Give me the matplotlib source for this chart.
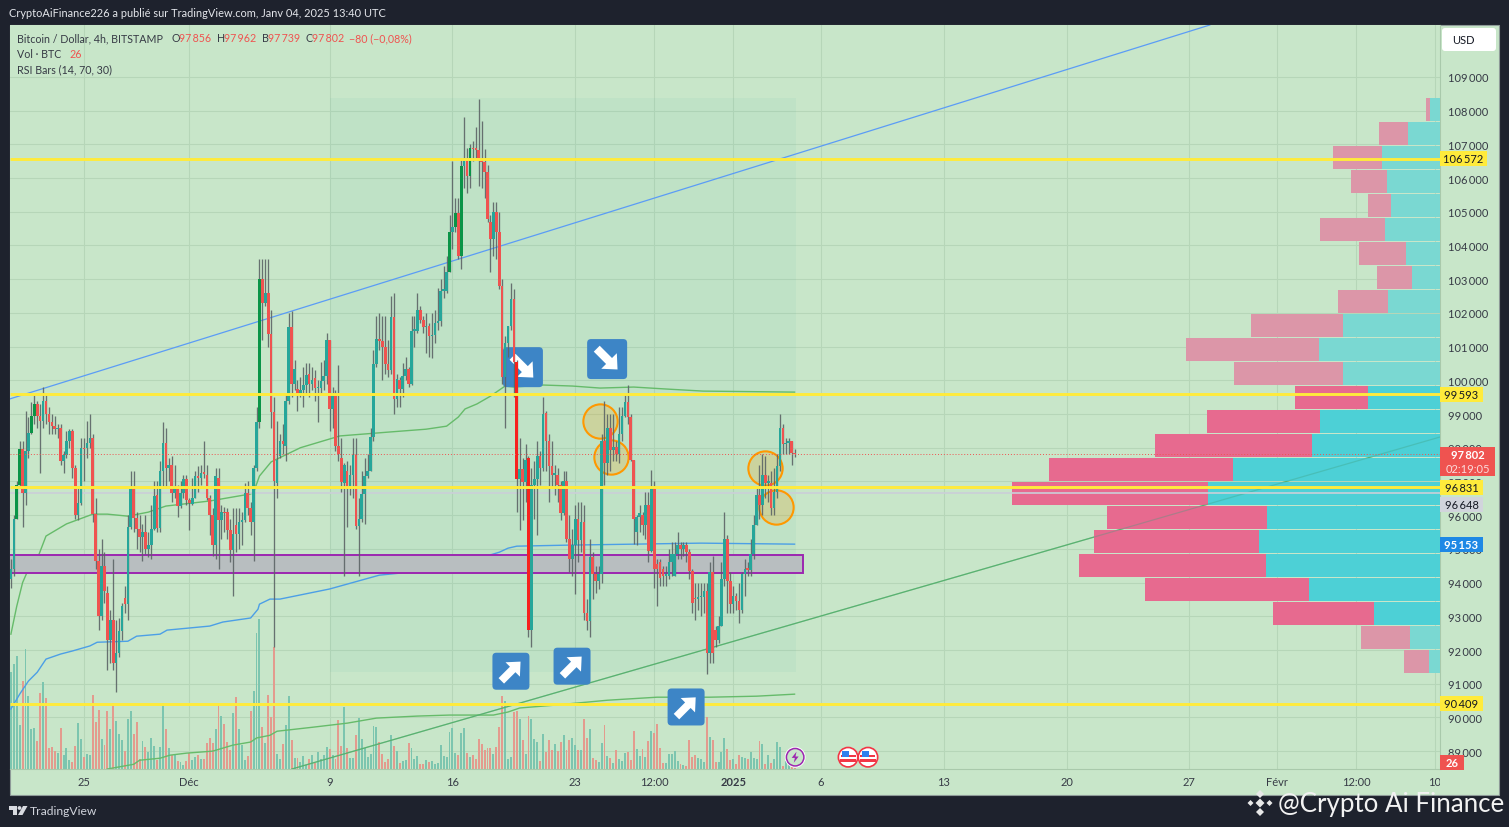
import numpy as np
import matplotlib
matplotlib.use("Agg")
import matplotlib.pyplot as plt
from matplotlib.patches import Rectangle, FancyBboxPatch, Polygon, FancyArrow, Circle
from matplotlib.offsetbox import AnnotationBbox, DrawingArea
from matplotlib.transforms import Affine2D, Bbox

plt.rcParams['font.family'] = ['Lato', 'DejaVu Sans']

# prices are in thousands of dollars, one row per 10 bars (4h)
opens = [
    94.1, 94.4, 95.9, 96.9, 97.95, 96.65, 97.9, 98.45, 98.95, 99.3,
    98.95, 98.8, 99.4, 99.0, 98.75, 98.65, 98.55, 98.6, 97.6, 97.78,
    98.2, 98.5, 97.4, 96.0, 96.35, 98.0, 97.98, 98.15, 98.28, 96.03,
    94.65, 93.0, 94.5, 93.7, 92.3, 92.9, 91.6, 91.9, 92.55, 93.55,
    93.35, 95.65, 96.77, 95.93, 95.6, 95.35, 95.5, 95.0, 95.1, 95.6,
    96.6, 95.62, 97.3, 98.13, 97.4, 97.5, 96.67, 96.8, 96.27, 96.67,
    97.07, 96.45, 96.33, 96.5, 97.17, 97.1, 97.25, 97.2, 96.5, 96.0,
    95.1, 97.1, 95.85, 96.1, 96.1, 95.57, 94.97, 95.7, 95.45, 95.8,
    95.85, 96.65, 96.2, 95.8, 97.4, 98.75, 103.0, 102.3, 102.6, 101.37,
    99.05, 96.95, 97.75, 98.2, 98.05, 99.4, 101.57, 99.9, 99.75, 99.55,
    99.72, 99.85, 100.2, 99.9, 100.08, 99.76, 99.76, 99.99, 100.13, 101.19,
    99.15, 99.62, 98.04, 97.69, 96.95, 97.3, 96.8, 97.2, 97.78, 95.68,
    95.9, 96.63, 97.17, 97.3, 98.33, 100.47, 101.22, 101.17, 101.0, 100.47,
    100.3, 101.87, 99.45, 100.0, 99.75, 100.13, 100.35, 99.9, 101.47, 101.47,
    102.1, 101.8, 101.57, 101.6, 101.3, 101.35, 101.7, 101.76, 102.65, 102.66,
    103.22, 104.4, 104.55, 104.95, 103.7, 106.35, 106.6, 106.05, 106.88, 106.85,
    106.83, 106.5, 106.47, 106.18, 104.7, 104.2, 105.0, 104.4, 102.8, 100.1,
    101.1, 101.6, 102.4, 100.55, 97.07, 97.37, 96.97, 97.7, 92.6, 96.9,
    97.07, 97.75, 97.4, 99.03, 98.2, 97.45, 97.2, 97.2, 96.9, 96.05,
    97.0, 95.3, 94.7, 95.1, 95.9, 95.25, 95.8, 93.1, 92.85, 94.75,
    94.25, 94.05, 94.25, 98.2, 97.55, 98.6, 97.93, 98.03, 97.82, 98.4,
    98.93, 99.35, 98.9, 97.65, 95.5, 95.95, 96.0, 95.7, 96.3, 94.95,
    96.85, 94.55, 94.6, 94.4, 94.2, 94.2, 94.6, 94.2, 94.85, 95.1,
    95.0, 95.1, 94.9, 94.35, 93.55, 93.5, 93.56, 93.56, 93.75, 91.9,
    94.3, 92.6, 92.3, 92.7, 94.1, 95.3, 94.05, 93.35, 93.6, 93.45,
    93.2, 94.25, 94.4, 94.38, 94.85, 95.7, 96.6, 96.3, 97.2, 96.95,
    96.95, 96.2, 96.7, 97.45, 98.6, 98.1, 98.15, 98.2, 97.856,
]
highs = [
    94.7, 96.0, 97.0, 98.2, 98.2, 99.1, 98.9, 99.35, 99.6, 99.4,
    99.3, 99.8, 99.6, 99.2, 99.0, 98.95, 98.7, 98.7, 97.9, 98.5,
    98.55, 98.55, 97.5, 96.8, 98.3, 98.3, 98.8, 99.0, 98.4, 96.5,
    95.0, 95.3, 94.9, 93.9, 93.2, 94.7, 92.9, 92.95, 93.4, 93.9,
    96.0, 97.3, 97.3, 96.1, 96.0, 95.75, 96.0, 95.5, 96.3, 97.0,
    97.0, 97.6, 98.75, 98.6, 97.7, 97.75, 97.5, 96.9, 97.0, 97.2,
    97.2, 96.5, 97.1, 97.3, 97.45, 97.5, 98.2, 97.5, 96.6, 96.2,
    97.4, 97.4, 96.3, 96.25, 96.2, 95.9, 96.2, 96.2, 96.2, 96.1,
    96.95, 97.0, 96.4, 97.5, 99.2, 103.6, 103.6, 103.6, 103.6, 102.1,
    99.5, 98.8, 98.4, 98.7, 99.6, 102.0, 102.05, 100.6, 100.0, 100.1,
    100.4, 100.5, 100.5, 100.4, 100.3, 100.0, 100.55, 100.6, 101.4, 101.2,
    99.8, 99.7, 100.45, 98.3, 97.55, 97.6, 97.5, 98.3, 98.3, 96.5,
    97.3, 97.7, 97.8, 98.6, 100.9, 101.9, 102.0, 101.9, 101.9, 101.2,
    102.5, 102.6, 100.2, 100.1, 100.5, 100.7, 100.4, 101.9, 101.9, 102.6,
    102.2, 101.9, 102.0, 101.7, 102.0, 102.1, 102.75, 103.0, 103.4, 103.7,
    104.9, 106.5, 105.4, 105.4, 106.6, 107.8, 106.9, 107.0, 107.1, 107.5,
    108.35, 107.7, 106.85, 106.4, 104.9, 105.3, 105.3, 105.0, 103.0, 101.3,
    101.6, 102.9, 102.7, 100.6, 98.3, 97.7, 98.1, 97.75, 97.4, 97.6,
    98.2, 97.9, 99.5, 99.1, 98.4, 98.2, 97.5, 97.4, 97.0, 97.3,
    97.3, 96.0, 95.6, 96.3, 96.4, 96.4, 96.3, 93.5, 95.3, 94.9,
    94.5, 94.5, 98.4, 99.4, 99.0, 99.0, 99.0, 98.2, 99.2, 99.2,
    99.6, 99.85, 99.0, 97.65, 96.0, 96.3, 96.1, 96.7, 96.7, 97.35,
    97.0, 94.7, 94.7, 94.5, 94.5, 95.0, 95.2, 95.2, 95.5, 95.2,
    95.2, 95.2, 95.0, 94.4, 94.0, 94.0, 94.0, 94.0, 94.0, 94.6,
    94.8, 92.7, 93.0, 94.6, 96.1, 95.4, 94.3, 93.9, 93.7, 94.0,
    94.3, 94.7, 94.6, 95.3, 96.0, 96.8, 97.5, 97.8, 97.75, 97.2,
    97.3, 97.4, 97.8, 99.0, 98.7, 98.3, 98.3, 98.2, 97.962,
]
lows = [
    93.85, 94.2, 95.9, 96.8, 95.65, 96.3, 97.7, 98.4, 98.7, 98.6,
    97.25, 98.6, 98.7, 98.4, 98.4, 98.4, 98.3, 97.5, 97.25, 97.7,
    98.0, 97.1, 95.9, 95.85, 96.3, 97.0, 97.7, 98.0, 95.8, 94.4,
    92.6, 92.9, 93.4, 91.4, 91.6, 91.4, 90.75, 91.8, 92.3, 93.1,
    92.9, 95.6, 95.5, 95.0, 94.9, 94.65, 94.85, 94.75, 94.7, 95.55,
    95.5, 95.5, 96.8, 96.85, 97.0, 96.4, 96.5, 95.95, 96.2, 96.5,
    96.3, 95.55, 96.3, 96.5, 96.7, 96.9, 97.1, 96.45, 95.4, 94.8,
    94.7, 94.4, 95.3, 95.5, 95.3, 94.6, 93.6, 94.9, 95.0, 95.1,
    95.8, 96.0, 95.4, 94.65, 97.3, 98.6, 101.2, 102.2, 101.0, 98.6,
    92.1, 96.5, 97.7, 97.8, 97.6, 99.3, 99.5, 99.7, 99.1, 99.5,
    99.2, 99.6, 99.5, 99.7, 99.4, 98.75, 99.6, 99.7, 99.9, 98.5,
    98.6, 97.9, 97.6, 96.7, 94.2, 95.65, 96.6, 96.5, 95.6, 94.2,
    95.8, 95.75, 97.1, 97.3, 98.2, 100.4, 100.9, 100.0, 100.2, 100.1,
    100.2, 99.0, 99.2, 99.2, 99.5, 100.0, 99.8, 99.85, 101.0, 101.4,
    101.7, 101.4, 100.8, 100.7, 100.65, 101.1, 101.5, 101.6, 102.45, 102.6,
    103.2, 103.9, 104.4, 103.6, 103.3, 105.7, 105.55, 105.7, 106.5, 106.6,
    105.75, 105.7, 105.4, 104.7, 103.2, 103.7, 103.6, 102.7, 99.9, 98.6,
    100.7, 101.5, 99.5, 96.1, 95.55, 95.85, 96.4, 92.4, 92.1, 95.9,
    95.4, 96.9, 97.3, 97.3, 96.4, 96.8, 96.6, 96.4, 95.85, 96.0,
    95.2, 94.3, 94.2, 93.65, 94.6, 94.9, 92.9, 92.6, 92.4, 93.5,
    93.7, 93.8, 94.0, 96.9, 97.2, 97.3, 97.6, 97.6, 97.55, 98.2,
    98.9, 98.7, 97.6, 95.15, 95.1, 95.5, 95.4, 95.3, 94.6, 94.9,
    93.85, 93.3, 93.9, 93.9, 93.9, 94.1, 94.2, 94.2, 94.7, 94.7,
    94.8, 94.6, 94.1, 93.1, 92.9, 93.2, 93.0, 93.1, 91.3, 91.6,
    91.6, 92.1, 92.2, 92.7, 93.9, 93.1, 93.1, 93.1, 93.2, 92.8,
    93.1, 93.6, 94.2, 94.2, 94.7, 95.7, 95.9, 96.0, 96.5, 96.4,
    96.0, 96.0, 96.5, 97.3, 97.8, 97.8, 97.8, 97.5, 97.739,
]
closes = [
    94.4, 95.9, 96.9, 97.95, 96.65, 97.9, 98.45, 98.95, 99.3, 98.95,
    98.8, 99.4, 99.0, 98.75, 98.65, 98.55, 98.6, 97.6, 97.78, 98.2,
    98.5, 97.4, 96.0, 96.35, 97.98, 97.95, 98.15, 98.28, 96.03, 94.65,
    93.0, 94.5, 93.75, 92.3, 92.9, 91.6, 91.9, 92.55, 93.3, 93.35,
    95.65, 96.77, 95.93, 95.6, 95.35, 95.5, 95.0, 95.1, 95.6, 96.58,
    95.62, 97.3, 98.13, 97.4, 97.5, 96.67, 96.8, 96.27, 96.67, 97.07,
    96.45, 96.35, 96.5, 97.17, 97.1, 97.25, 97.22, 96.5, 96.0, 95.1,
    97.17, 95.85, 96.1, 96.05, 95.57, 94.97, 95.45, 95.45, 95.8, 95.85,
    96.65, 96.2, 95.8, 97.4, 98.75, 103.0, 102.3, 102.6, 101.37, 99.05,
    97.0, 97.65, 98.2, 98.1, 99.4, 101.57, 99.9, 100.33, 99.55, 99.72,
    99.85, 100.15, 99.9, 100.0, 99.76, 99.78, 99.99, 100.13, 101.19, 99.15,
    99.62, 98.04, 97.8, 96.97, 97.5, 96.77, 97.2, 97.78, 95.68, 95.9,
    96.63, 97.17, 97.3, 98.33, 100.47, 101.22, 101.17, 101.0, 100.47, 100.3,
    101.87, 99.45, 100.05, 99.75, 100.13, 100.35, 99.9, 101.47, 101.47, 102.1,
    101.8, 101.57, 101.6, 101.3, 101.35, 101.7, 101.76, 102.65, 102.66, 103.22,
    104.4, 104.55, 104.95, 103.7, 106.35, 106.6, 106.05, 106.88, 106.85, 106.83,
    106.5, 106.47, 106.18, 104.8, 104.2, 105.0, 104.4, 102.8, 100.1, 101.1,
    101.6, 102.4, 100.55, 97.07, 97.37, 96.97, 97.65, 92.6, 96.9, 97.07,
    97.75, 97.4, 98.99, 98.2, 97.45, 97.2, 97.22, 96.9, 96.05, 97.0,
    95.3, 94.7, 95.1, 95.9, 95.25, 95.8, 93.1, 92.85, 94.75, 94.25,
    94.05, 94.25, 98.2, 97.55, 98.6, 97.93, 98.03, 97.82, 98.4, 98.93,
    99.35, 98.9, 97.65, 95.9, 95.95, 96.05, 95.7, 96.3, 94.95, 96.85,
    94.4, 94.4, 94.15, 94.2, 94.2, 94.6, 94.85, 94.85, 95.1, 95.0,
    95.1, 94.9, 94.35, 93.4, 93.5, 93.56, 93.56, 93.75, 91.9, 94.3,
    91.9, 92.3, 92.7, 94.1, 95.3, 94.05, 93.35, 93.6, 93.45, 93.2,
    94.25, 94.4, 94.38, 94.85, 95.7, 96.6, 96.3, 97.2, 96.95, 96.98,
    96.2, 96.7, 97.45, 98.6, 98.1, 98.15, 98.2, 97.85, 97.802,
]
volumes = [
    97, 105, 113, 44, 88, 120, 73, 40, 41, 28,
    76, 87, 71, 21, 22, 18, 16, 41, 14, 21,
    9, 7, 23, 46, 30, 12, 15, 14, 74, 47,
    59, 30, 24, 58, 40, 66, 48, 35, 29, 18,
    50, 58, 35, 47, 10, 28, 22, 17, 31, 23,
    9, 22, 66, 40, 21, 14, 14, 8, 7, 4,
    8, 16, 9, 12, 14, 10, 10, 26, 31, 26,
    40, 65, 53, 45, 27, 19, 56, 72, 40, 24,
    9, 13, 58, 78, 136, 150, 42, 26, 74, 52,
    122, 15, 10, 25, 44, 73, 29, 11, 11, 7,
    13, 4, 10, 14, 6, 17, 10, 14, 22, 20,
    14, 10, 49, 23, 62, 21, 11, 11, 34, 51,
    30, 21, 12, 15, 43, 42, 27, 15, 7, 10,
    34, 23, 18, 6, 8, 9, 26, 21, 10, 13,
    5, 5, 9, 7, 8, 5, 6, 24, 13, 12,
    37, 41, 16, 14, 36, 41, 16, 12, 14, 10,
    30, 25, 19, 21, 21, 15, 22, 42, 73, 68,
    10, 12, 57, 58, 50, 29, 15, 53, 50, 30,
    27, 8, 35, 17, 29, 19, 25, 18, 27, 34,
    19, 29, 31, 24, 19, 19, 50, 31, 40, 11,
    9, 7, 26, 44, 13, 11, 6, 19, 10, 8,
    16, 17, 9, 38, 20, 13, 20, 12, 28, 38,
    36, 45, 21, 6, 6, 15, 15, 18, 8, 5,
    4, 3, 29, 12, 14, 11, 10, 7, 52, 32,
    29, 7, 7, 17, 31, 20, 9, 10, 5, 14,
    12, 11, 10, 17, 11, 10, 28, 25, 5, 14,
    6, 10, 27, 22, 3, 8, 5, 3, 1,
]
strong_up_bars = [2, 3, 7, 8, 85, 150, 152, 154, 157]
strong_down_bars = [173, 177]

# anchored vwap lines, (bar, price) vertices
vwap_green_x = [0, 2, 4, 6, 9, 12, 19, 28, 33, 40, 47, 53, 59, 68, 82, 83, 85, 89, 99, 112.5, 130, 142, 149, 153,
                155.3, 159.4, 164, 169, 172, 182, 192, 201.5, 213, 224.4, 236.7, 268]
vwap_green_y = [92.47, 93.3, 94.0, 94.4, 94.7, 95.38, 95.74, 96.03, 96.03, 95.97, 96.09, 96.27, 96.33, 96.42, 96.63,
                96.68, 97.16, 97.58, 98.0, 98.35, 98.47, 98.55, 98.64, 98.91, 99.15, 99.3, 99.53, 99.83, 99.8,
                99.86, 99.83, 99.77, 99.8, 99.74, 99.68, 99.65]
vwap_blue_x = [0, 3, 6, 9, 12, 17, 21, 27, 29.5, 40, 43, 51, 53.4, 68, 72.5, 82, 84.5, 85, 88.6, 92, 109, 126, 140,
               157, 167, 170, 173, 190, 213, 236, 268]
vwap_blue_y = [90.25, 90.69, 91.08, 91.34, 91.73, 91.88, 91.97, 92.12, 92.23, 92.26, 92.41, 92.47, 92.59, 92.71,
               92.83, 92.95, 93.21, 93.36, 93.51, 93.51, 93.81, 94.22, 94.34, 94.64, 94.9, 95.02, 95.08, 95.11,
               95.14, 95.17, 95.14]
vwap_low_x = [33, 42, 44, 51, 54.4, 60, 69, 76, 82, 84, 88.6, 91, 103.3, 115, 125, 139, 150, 157, 165, 170, 174,
              185.4, 204, 221, 239, 255, 268]
vwap_low_y = [88.47, 88.61, 88.73, 88.79, 88.88, 88.94, 89.0, 89.18, 89.27, 89.39, 89.47, 89.59, 89.71, 89.83,
              89.98, 90.04, 90.07, 90.07, 90.07, 90.16, 90.28, 90.36, 90.51, 90.6, 90.6, 90.63, 90.69]

trend_blue_x = [-0.3, 410]
trend_blue_y = [99.45, 110.54]
trend_green_x = [96.1, 488.8]
trend_green_y = [88.47, 98.32]

level_prices = [106.572, 99.593, 96.831, 90.409]
last_price = 97.802
poc_price = 96.648
zone_prices = [94.28, 94.82]
zone_bars = [-2, 270.9]
range_bars = [109.1, 268.5]
range_prices = [91.34, 108.36]

arrow_bars = [175.1, 203.9, 171, 191.9, 230.9]
arrow_prices = [100.39, 100.63, 91.37, 91.52, 90.31]
arrow_up = [False, False, True, True, True]
circle_bars = [201.5, 205.2, 257.9, 261.7]
circle_prices = [98.79, 97.72, 97.4, 96.24]

# volume profile on the right
vp_prices = [108.04, 107.33, 106.62, 105.90, 105.19, 104.48, 103.77, 103.06, 102.34, 101.63, 100.92, 100.21,
             99.50, 98.78, 98.07, 97.36, 96.65, 95.94, 95.22, 94.51, 93.80, 93.09, 92.38, 91.66]
vp_up = [10, 32, 58, 53, 49, 55, 34, 28, 52, 97, 121, 97, 72, 120, 128, 207, 232, 173, 181, 174, 131, 66, 30, 11]
vp_down = [4, 29, 49, 36, 23, 65, 47, 35, 50, 92, 133, 109, 73, 113, 157, 184, 196, 160, 165, 187, 164, 101, 49, 25]
vp_solid_rows = [12, 13, 14, 15, 16, 17, 18, 19, 20, 21]

tick_bars = [25, 61, 109, 151, 193, 220, 247, 277, 319, 361, 403, 433, 460, 487]
tick_labels = ['25', 'Déc', '9', '16', '23', '12:00', '2025', '6', '13', '20', '27', 'Févr', '12:00', '10']
price_ticks = list(range(89, 110))

BG = '#C8E6C9'
DARK = '#1E222D'
TEAL = '#26A69A'
RED = '#EF5350'
W, H = 1509, 828
XMIN, XMAX = -0.31, 488.73
YMIN, YMAX = 88.47, 110.54
THIN = '\u2009'

fig = plt.figure(figsize=(W / 100, H / 100), dpi=100, facecolor=DARK)
px = Affine2D().scale(1, -1).translate(0, H)

fig.add_artist(Rectangle((9.5, 25.5), 1489, 770, transform=px, facecolor=BG, edgecolor='#8E9A98', lw=0.8, zorder=-1))

ax = fig.add_axes([10 / W, 1 - 770 / H, 1430 / W, 744 / H], facecolor=BG)
ax.set_xlim(XMIN, XMAX)
ax.set_ylim(YMIN, YMAX)
px_x = 1430 / (XMAX - XMIN)
px_y = 744 / (YMAX - YMIN)
for s in ['top', 'left']:
    ax.spines[s].set_visible(False)
for s in ['right', 'bottom']:
    ax.spines[s].set_color('#A9C9AB')
    ax.spines[s].set_linewidth(0.8)

ax.yaxis.tick_right()
ax.set_yticks(price_ticks)
ax.set_yticklabels([f'{p}{THIN}000' for p in price_ticks], fontsize=8, color='#363A45')
ax.set_xticks(tick_bars)
ax.set_xticklabels(tick_labels, fontsize=8, color='#363A45')
ax.tick_params(axis='both', length=0)
ax.tick_params(axis='y', pad=6)
ax.tick_params(axis='x', pad=5)
ax.grid(True, color='#B6D6B8', lw=0.8, zorder=0)
ax.set_axisbelow(True)
for t, lab in zip(ax.get_xticklabels(), tick_labels):
    t.set_clip_on(True)
    t.set_clip_box(Bbox.from_extents(0, 0, 1440, H))
    if lab == '2025':
        t.set_fontweight('bold')

bars = np.arange(len(closes))
o = np.array(opens)
h = np.array(highs)
l = np.array(lows)
c = np.array(closes)
up = c >= o
colors = np.where(up, TEAL, RED).astype(object)
colors[strong_up_bars] = '#0A9447'
colors[strong_down_bars] = '#F7211E'

# date range shade
ax.add_patch(Rectangle((range_bars[0], range_prices[0]), range_bars[1] - range_bars[0], range_prices[1] - range_prices[0],
                       facecolor=TEAL, alpha=0.05, edgecolor='none', zorder=1))

# volume
ax.bar(bars, np.array(volumes) / px_y, bottom=YMIN, width=0.66,
       color=np.where(up, '#7CC5AF', '#E39B8E'), zorder=1.5)

# trend lines and vwaps
ax.plot(trend_green_x, trend_green_y, color='#66BB6A', lw=0.9, zorder=2)
ax.plot(trend_blue_x, trend_blue_y, color='#5B9CF6', lw=0.9, zorder=2)
ax.plot(vwap_green_x, vwap_green_y, color='#66BB6A', lw=1.0, zorder=2)
ax.plot(vwap_low_x, vwap_low_y, color='#66BB6A', lw=1.0, zorder=2)
ax.plot(vwap_blue_x, vwap_blue_y, color='#4C9FE6', lw=1.0, zorder=2)

# volume profile
vp_k = 1 / px_x
up_w = np.array(vp_up) * vp_k
down_w = np.array(vp_down) * vp_k
rows = np.arange(len(vp_prices))
solid = np.isin(rows, vp_solid_rows)
ax.barh(vp_prices, up_w, left=XMAX - up_w, height=23 / px_y, color=np.where(solid, '#4DD0D6', '#7AD8D2'), zorder=3)
ax.barh(vp_prices, down_w, left=XMAX - up_w - down_w, height=23 / px_y, color=np.where(solid, '#E76A8F', '#DC96A8'),
        zorder=3)
# the trend line shows faintly through the profile
ax.plot(trend_green_x, trend_green_y, color='#3F9F7F', lw=0.9, alpha=0.35, zorder=3.1)

# zone
ax.add_patch(Rectangle((zone_bars[0], zone_prices[0]), zone_bars[1] - zone_bars[0], zone_prices[1] - zone_prices[0],
                       facecolor='#B8BEC0', edgecolor='#9C27B0', lw=1.4, zorder=3.5))


def arrow_box(bar, price, pointing_up, z, size):
    s = size * 0.72
    area = DrawingArea(s, s, 0, 0)
    area.add_artist(FancyBboxPatch((0, 0), s, s, boxstyle='round,pad=0,rounding_size=2.8',
                                   facecolor='#3D85C6', edgecolor='none'))
    a, b = s * 0.24, s * 0.76
    if pointing_up:
        area.add_artist(FancyArrow(a, a, b - a, b - a, width=s * 0.21, head_width=s * 0.55, head_length=s * 0.3,
                                   length_includes_head=True, color='white', lw=0))
    else:
        area.add_artist(FancyArrow(a, b, b - a, a - b, width=s * 0.21, head_width=s * 0.55, head_length=s * 0.3,
                                   length_includes_head=True, color='white', lw=0))
    ax.add_artist(AnnotationBbox(area, (bar, price), frameon=False, pad=0, box_alignment=(0.5, 0.5), zorder=z))


for i, (b, p, u) in enumerate(zip(arrow_bars, arrow_prices, arrow_up)):
    arrow_box(b, p, u, 4 if i == 0 else 9, 40 if i < 2 else 37)

ax.scatter(circle_bars, circle_prices, s=610, facecolor=(1.0, 0.6, 0.0, 0.2), edgecolor='#FF9800', lw=1.5, zorder=4.5)

# candles
ax.vlines(bars, l, h, color='#5C6466', lw=0.95, alpha=0.9, zorder=5)
ax.bar(bars, np.maximum(np.abs(c - o), 0.05), bottom=np.minimum(o, c), width=0.9, color=colors, zorder=6)

ax.hlines(last_price, XMIN, XMAX, color=RED, lw=0.7, linestyles=(0, (1, 2)), zorder=6.5)
ax.hlines(poc_price, XMIN, XMAX, color='#CBCFD8', lw=1.2, zorder=3.2)
ax.hlines(level_prices, XMIN, XMAX, color='#FFEB3B', lw=2.1, zorder=8)


# price tags on the scale
def price_tag(price, w, hpx, fc, text, tc='#131722', weight='normal', text_price=None):
    ax.add_patch(Rectangle((1, price - hpx / px_y / 2), w / 1430, hpx / px_y, transform=ax.get_yaxis_transform(),
                           facecolor=fc, edgecolor='none', clip_on=False, zorder=10))
    ax.text(1 + w / 2 / 1430, price if text_price is None else text_price, text, transform=ax.get_yaxis_transform(),
            ha='center', va='center', fontsize=8, color=tc, fontweight=weight, clip_on=False, zorder=11)


for lv in level_prices:
    price_tag(lv, 47 if lv > 100 else 43, 15, '#FFEB3B', f'{lv:.3f}'.replace('.', THIN))
price_tag(96.33, 43, 15, '#D1D4DC', f'96{THIN}648')
price_tag(95.14, 43, 15, '#1E88E5', f'95{THIN}153', tc='white', weight='bold')
price_tag(97.59, 55, 29, RED, f'97{THIN}802', tc='white', weight='bold', text_price=97.8)
ax.text(1 + 27.5 / 1430, 97.39, '02:19:05', transform=ax.get_yaxis_transform(), ha='center', va='center',
        fontsize=8, color='#FBDADA', clip_on=False, zorder=11)
price_tag(88.67, 24, 15, RED, '26', tc='white', weight='bold')

# event markers on the time axis
ev = DrawingArea(16, 16, 0, 0)
ev.add_artist(Circle((8, 8), 7.5, facecolor='white', edgecolor='none'))
ev.add_artist(Circle((8, 8), 6.3, facecolor=BG, edgecolor='#9C27B0', lw=1.1))
ev.add_artist(Polygon([(9, 12), (5.5, 7.5), (7.8, 7.5), (7, 4), (10.5, 8.5), (8.2, 8.5)], closed=True, color='#9C27B0', lw=0))
ax.add_artist(AnnotationBbox(ev, (268.2, 88.82), frameon=False, pad=0, zorder=7))
for b in [286.3, 293.1]:
    fl = DrawingArea(16, 16, 0, 0)
    fl.add_artist(Circle((8, 8), 7, facecolor='white', edgecolor='#F23645', lw=1.2))
    fl.add_artist(Rectangle((2.2, 4.8), 11.6, 1.8, color='#F23645', lw=0))
    fl.add_artist(Rectangle((2.6, 8), 10.8, 1.6, color='#F23645', lw=0))
    fl.add_artist(Rectangle((3.5, 8), 5, 4.4, color='#2F80ED', lw=0))
    ax.add_artist(AnnotationBbox(fl, (b, 88.82), frameon=False, pad=0, zorder=7))


# texts outside the plot, in pixels
def ptext(x, y, s, color='#131722', size=8, **kw):
    fig.text(x, y, s, transform=px, color=color, fontsize=size, va='center', **kw)


ptext(9, 14, 'CryptoAiFinance226 a publié sur TradingView.com, Janv 04, 2025 13:40 UTC', color='#E4E6EB', size=7.95)
ptext(17, 38.5, 'Bitcoin / Dollar, 4h, BITSTAMP', color='#363A45', size=7.7)
for x, s, col in [(172, 'O', '#363A45'), (179, f'97{THIN}856', RED), (217, 'H', '#363A45'), (224, f'97{THIN}962', RED),
                  (262, 'B', '#363A45'), (268, f'97{THIN}739', RED), (305, 'C', '#363A45'), (312, f'97{THIN}802', RED),
                  (349, '\u221280 (\u22120,08%)', RED)]:
    ptext(x, 38.5, s, color=col, size=7.7)
ptext(17, 54.5, 'Vol · BTC', color='#363A45', size=7.7)
ptext(69, 54.5, '26', color=RED, size=7.7)
ptext(17, 70, 'RSI Bars (14, 70, 30)', color='#363A45', size=7.7)

fig.add_artist(FancyBboxPatch((1442, 29), 54, 23, boxstyle='round,pad=0,rounding_size=3', transform=px,
                              facecolor='white', edgecolor='none', zorder=2))
fig.text(1452, 41, 'USD', transform=px, fontsize=8, color='#131722', va='center', zorder=3)

# tradingview logo
fig.add_artist(Polygon([(9, 807), (17, 807), (17, 816), (13, 816), (13, 811), (9, 811)], transform=px, color='#D8DAE0', lw=0))
fig.add_artist(Circle((19.5, 809), 1.9, transform=px, color='#D8DAE0', lw=0))
fig.add_artist(Polygon([(23, 807), (27.5, 807), (22.5, 816), (18, 816)], transform=px, color='#D8DAE0', lw=0))
ptext(30, 812, 'TradingView', color='#D1D4DC', size=8.7)

# watermark
for cx, cy, r in [(1260, 804, 4.5), (1250.5, 804, 3), (1269.5, 804, 3), (1260, 795, 4), (1260, 813, 4)]:
    fig.add_artist(Polygon([(cx - r, cy), (cx, cy - r), (cx + r, cy), (cx, cy + r)], transform=px, color='#E8E8E8', lw=0))
ptext(1278, 804.5, '@Crypto Ai Finance', color='#F2F2F2', size=18.6)

fig.savefig('out.png', dpi=100, facecolor=DARK)
